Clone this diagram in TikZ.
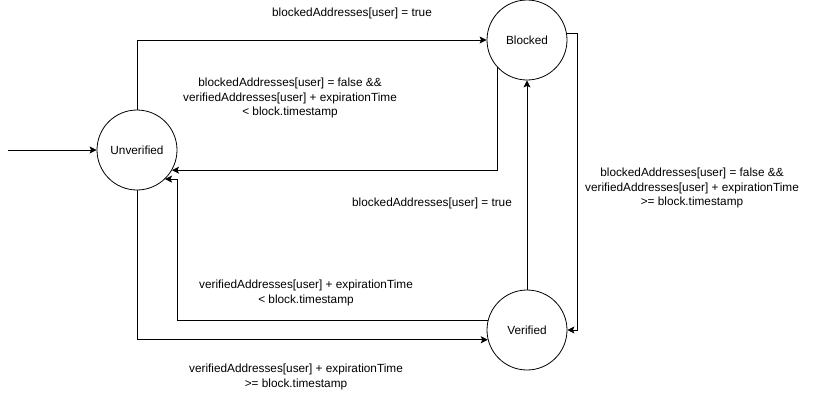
\documentclass[tikz,border=0pt]{standalone}
\usepackage{fontspec}
\setmainfont{Liberation Sans}
\usepackage{tikz}
\usetikzlibrary{arrows.meta}
\tikzset{
  st/.style={circle,draw,line width=0.8pt,minimum size=80pt,inner sep=0pt,font=\fontsize{11.8}{14}\selectfont},
  tr/.style={line width=0.9pt,-{Stealth[length=7pt,width=7pt,inset=1.5pt]}},
  lbl/.style={align=center,font=\fontsize{11.8}{14.5}\selectfont,inner sep=0pt}
}
\begin{document}
\begin{tikzpicture}[x=1pt,y=-1pt]
\useasboundingbox (0,0) rectangle (818,416);
\node[st] (U) at (137,150) {Unverified};
\node[st] (B) at (527,40) {Blocked};
\node[st] (V) at (527,330) {Verified};
\coordinate (start) at (8,150);
\draw[tr] (start) -- (U.west);
\draw[tr] (U.north) |- (B.west);
\draw[tr] (B.222) |- (U.-30);
\draw[tr] (B.9) -| ([xshift=10pt]V.east) -- (V.east);
\draw[tr] (V.north) -- (B.south);
\draw[tr] (V.166) -| ([xshift=12pt]U.-46) -- (U.-46);
\draw[tr] (U.south) |- (V.194);
\node[lbl] (l1) at (352,13) {blockedAddresses[user] = true};
\node[lbl] (l2) at (290,98) {blockedAddresses[user] = false \&\&\\verifiedAddresses[user] + expirationTime\\< block.timestamp};
\node[lbl] (l3) at (432,203) {blockedAddresses[user] = true};
\node[lbl] (l4) at (692,188) {blockedAddresses[user] = false \&\&\\verifiedAddresses[user] + expirationTime\\>= block.timestamp};
\node[lbl] (l5) at (306,293) {verifiedAddresses[user] + expirationTime\\< block.timestamp};
\node[lbl] (l6) at (296,377) {verifiedAddresses[user] + expirationTime\\>= block.timestamp};
\end{tikzpicture}
\end{document}
